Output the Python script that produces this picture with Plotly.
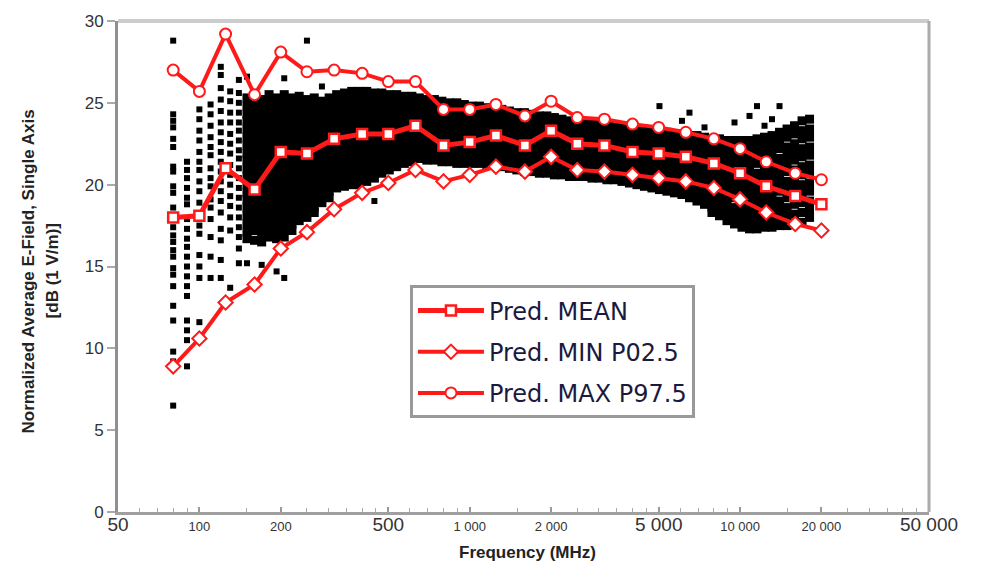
import plotly.graph_objects as go

# ---- prediction curves (third-octave centre frequencies, MHz) ----
freq = [80, 100, 125, 160, 200, 250, 315, 400, 500, 630, 800, 1000, 1250, 1600,
        2000, 2500, 3150, 4000, 5000, 6300, 8000, 10000, 12500, 16000, 20000]
pred_mean = [18.0, 18.1, 21.0, 19.7, 22.0, 21.9, 22.8, 23.1, 23.1, 23.6, 22.4, 22.6, 23.0,
             22.4, 23.3, 22.5, 22.4, 22.0, 21.9, 21.7, 21.3, 20.7, 19.9, 19.3, 18.8]
pred_min = [8.9, 10.6, 12.8, 13.9, 16.1, 17.1, 18.5, 19.5, 20.1, 20.9, 20.2, 20.6, 21.1,
            20.8, 21.7, 20.9, 20.8, 20.6, 20.4, 20.2, 19.8, 19.1, 18.3, 17.6, 17.2]
pred_max = [27.0, 25.7, 29.2, 25.5, 28.1, 26.9, 27.0, 26.8, 26.3, 26.3, 24.6, 24.6, 24.9,
            24.2, 25.1, 24.1, 24.0, 23.7, 23.5, 23.2, 22.8, 22.2, 21.4, 20.7, 20.3]

# ---- measured points, low-frequency sparse columns ----
sparse_freq = [80, 90, 100, 110, 120, 130, 140]
sparse_db = [
    [28.8, 24.3, 23.9, 23.5, 22.8, 22.3, 21.1, 20.8, 19.9, 19.5, 18.6, 17.4, 16.9, 16.5, 16.0,
     15.6, 14.9, 14.5, 13.8, 12.6, 11.7, 9.8, 9.2, 6.5],
    [21.4, 20.9, 20.4, 19.8, 19.2, 18.8, 17.9, 17.3, 16.7, 16.2, 15.6, 15.0, 14.4, 13.8, 13.2,
     11.7, 11.1, 10.5, 8.9],
    [24.6, 24.0, 23.3, 22.7, 22.0, 21.4, 20.9, 20.2, 19.6, 18.9, 18.2, 17.5, 17.0, 15.7, 15.0,
     14.3, 11.6],
    [24.9, 24.3, 23.6, 22.9, 22.3, 21.8, 21.0, 20.4, 19.9, 19.1, 18.6, 17.9, 16.8, 15.6, 14.3],
    [27.2, 26.7, 25.9, 25.2, 24.5, 23.8, 23.2, 22.6, 22.0, 21.4, 20.8, 20.2, 19.6, 19.0, 18.3,
     17.3, 16.6, 15.4, 14.3],
    [25.7, 25.1, 24.4, 23.8, 23.1, 22.5, 21.9, 21.2, 20.6, 20.0, 19.3, 18.7, 18.0, 17.2, 13.7],
    [26.4, 25.6, 25.0, 24.4, 23.8, 23.3, 22.7, 22.1, 21.6, 21.0, 20.4, 19.8, 19.2, 18.6, 18.0,
     17.4, 16.8, 16.1, 15.2],
]

# ---- isolated measured points outside the dense cloud ----
stray_freq = [150, 150, 170, 193, 206, 206, 250, 284, 444, 5034, 6098, 6500, 7387, 9539,
              10840, 11555, 12318, 13131, 13997]
stray_db = [26.6, 15.2, 15.1, 14.7, 26.5, 14.3, 28.8, 26.0, 19.0, 24.8, 23.9, 24.4, 23.5,
            23.8, 24.2, 24.8, 23.6, 24.0, 24.8]

# ---- measured points, dense cloud columns ----
dense_freq = [150, 160, 170, 181, 193, 206, 220, 234, 250, 266, 284, 302, 322, 344, 366, 390,
              416, 444, 473, 504, 537, 573, 611, 651, 694, 740, 789, 841, 896, 955, 1018, 1086,
              1157, 1234, 1315, 1402, 1494, 1593, 1698, 1810, 1930, 2057, 2193, 2338, 2492,
              2657, 2832, 3019, 3218, 3431, 3657, 3898, 4156, 4430, 4722, 5034, 5366, 5720,
              6098, 6500, 6929, 7387, 7874, 8394, 8948, 9539, 10168, 10840, 11555, 12318,
              13131, 13997, 14921, 15906, 16956, 18075]
dense_db = [
    [25.3, 24.8, 24.3, 23.9, 23.4, 22.9, 22.4, 21.9, 21.5, 21.0, 20.5, 20.0, 19.5, 19.1, 18.6, 18.1, 17.6, 17.1, 16.7],
    [25.4, 24.9, 24.5, 24.0, 23.5, 23.0, 22.5, 22.1, 21.6, 21.1, 20.6, 20.1, 19.7, 19.2, 18.7, 18.2, 17.7, 17.2, 16.6],
    [25.2, 24.7, 24.2, 23.7, 23.3, 22.8, 22.3, 21.8, 21.3, 20.9, 20.4, 19.9, 19.4, 18.9, 18.4, 18.0, 17.5, 17.0, 16.5],
    [25.5, 25.0, 24.5, 24.0, 23.6, 23.1, 22.6, 22.1, 21.6, 21.2, 20.7, 20.2, 19.7, 19.2, 18.8, 18.3, 17.8, 17.3, 16.8],
    [25.3, 24.8, 24.4, 23.9, 23.4, 22.9, 22.4, 22.0, 21.5, 21.0, 20.5, 20.0, 19.6, 19.1, 18.6, 18.1, 17.6, 17.1, 16.7],
    [25.5, 25.0, 24.5, 24.1, 23.6, 23.1, 22.6, 22.1, 21.7, 21.2, 20.7, 20.2, 19.7, 19.3, 18.8, 18.3, 17.8, 17.3, 16.8],
    [25.3, 24.8, 24.3, 23.9, 23.4, 22.9, 22.4, 21.9, 21.5, 21.0, 20.5, 20.0, 19.5, 19.1, 18.6, 18.1, 17.6, 17.2],
    [25.4, 24.9, 24.4, 24.0, 23.5, 23.0, 22.5, 22.1, 21.6, 21.1, 20.6, 20.2, 19.7, 19.2, 18.7, 18.3, 17.8],
    [25.2, 24.7, 24.2, 23.8, 23.3, 22.8, 22.3, 21.9, 21.4, 20.9, 20.4, 20.0, 19.5, 19.0, 18.5, 18.0],
    [25.3, 24.8, 24.3, 23.9, 23.4, 22.9, 22.4, 22.0, 21.5, 21.0, 20.5, 20.1, 19.6, 19.1, 18.6, 18.3],
    [25.1, 24.6, 24.2, 23.7, 23.2, 22.7, 22.3, 21.8, 21.3, 20.8, 20.4, 19.9, 19.4, 18.9],
    [25.3, 24.8, 24.3, 23.9, 23.4, 22.9, 22.4, 22.0, 21.5, 21.0, 20.5, 20.1, 19.6, 19.2],
    [25.5, 25.0, 24.5, 24.1, 23.6, 23.1, 22.6, 22.2, 21.7, 21.2, 20.7, 20.3, 19.8],
    [25.6, 25.1, 24.6, 24.2, 23.7, 23.2, 22.7, 22.3, 21.8, 21.3, 20.8, 20.4, 19.9],
    [25.7, 25.2, 24.7, 24.3, 23.8, 23.3, 22.8, 22.4, 21.9, 21.4, 20.9, 20.5, 20.0],
    [25.7, 25.2, 24.7, 24.3, 23.8, 23.3, 22.8, 22.4, 21.9, 21.4, 20.9, 20.5, 20.0],
    [25.7, 25.2, 24.8, 24.3, 23.8, 23.4, 22.9, 22.4, 22.0, 21.5, 21.0, 20.6, 20.2],
    [25.6, 25.1, 24.7, 24.2, 23.7, 23.3, 22.8, 22.3, 21.9, 21.4, 20.9, 20.4],
    [25.6, 25.1, 24.7, 24.2, 23.7, 23.3, 22.8, 22.3, 21.9, 21.4, 20.9, 20.7],
    [25.5, 25.0, 24.6, 24.1, 23.6, 23.2, 22.7, 22.2, 21.8, 21.3, 20.9],
    [25.5, 25.0, 24.6, 24.1, 23.6, 23.2, 22.7, 22.2, 21.8, 21.3, 21.1],
    [25.4, 24.9, 24.5, 24.0, 23.6, 23.1, 22.6, 22.2, 21.7, 21.3],
    [25.4, 24.9, 24.5, 24.0, 23.6, 23.1, 22.6, 22.2, 21.7, 21.4],
    [25.3, 24.8, 24.4, 23.9, 23.5, 23.0, 22.5, 22.1, 21.6],
    [25.2, 24.7, 24.3, 23.8, 23.4, 22.9, 22.4, 22.0, 21.5],
    [25.2, 24.7, 24.3, 23.8, 23.4, 22.9, 22.4, 22.0, 21.5],
    [25.1, 24.6, 24.2, 23.7, 23.3, 22.8, 22.3, 21.9, 21.4],
    [25.0, 24.5, 24.1, 23.6, 23.2, 22.7, 22.3, 21.8, 21.4],
    [25.0, 24.5, 24.1, 23.6, 23.2, 22.7, 22.2, 21.8, 21.3],
    [24.9, 24.4, 24.0, 23.5, 23.1, 22.6, 22.2, 21.7, 21.3],
    [24.8, 24.4, 23.9, 23.5, 23.0, 22.6, 22.1, 21.7, 21.3],
    [24.8, 24.4, 23.9, 23.5, 23.0, 22.6, 22.1, 21.7, 21.3],
    [24.7, 24.3, 23.8, 23.4, 22.9, 22.5, 22.0, 21.6, 21.2],
    [24.7, 24.3, 23.8, 23.4, 22.9, 22.5, 22.0, 21.6, 21.2],
    [24.6, 24.2, 23.7, 23.3, 22.8, 22.4, 21.9, 21.5, 21.1],
    [24.5, 24.1, 23.6, 23.2, 22.7, 22.3, 21.8, 21.4, 21.0],
    [24.4, 24.0, 23.5, 23.1, 22.6, 22.2, 21.7, 21.3, 20.9],
    [24.4, 24.0, 23.5, 23.1, 22.6, 22.2, 21.7, 21.3, 20.8],
    [24.3, 23.9, 23.4, 23.0, 22.5, 22.1, 21.6, 21.2, 20.8],
    [24.2, 23.8, 23.3, 22.9, 22.4, 22.0, 21.5, 21.1, 20.7],
    [24.2, 23.8, 23.3, 22.9, 22.4, 22.0, 21.5, 21.1, 20.7],
    [24.1, 23.7, 23.2, 22.8, 22.3, 21.9, 21.4, 21.0, 20.6],
    [24.0, 23.6, 23.1, 22.7, 22.2, 21.8, 21.4, 21.0, 20.6],
    [23.9, 23.5, 23.0, 22.6, 22.1, 21.7, 21.3, 20.9, 20.5],
    [23.9, 23.5, 23.0, 22.6, 22.1, 21.7, 21.3, 20.9, 20.5],
    [23.8, 23.4, 22.9, 22.5, 22.0, 21.6, 21.2, 20.8, 20.5],
    [23.7, 23.3, 22.8, 22.4, 22.0, 21.6, 21.2, 20.8, 20.4],
    [23.7, 23.3, 22.8, 22.4, 22.0, 21.6, 21.2, 20.8, 20.4],
    [23.6, 23.2, 22.7, 22.3, 21.9, 21.5, 21.1, 20.7, 20.3],
    [23.6, 23.2, 22.7, 22.3, 21.9, 21.5, 21.1, 20.7, 20.3],
    [23.5, 23.1, 22.6, 22.2, 21.8, 21.4, 21.0, 20.6, 20.2],
    [23.4, 23.0, 22.6, 22.2, 21.7, 21.3, 20.9, 20.5, 20.1],
    [23.4, 23.0, 22.5, 22.1, 21.7, 21.3, 20.8, 20.4, 20.0],
    [23.3, 22.9, 22.4, 22.0, 21.6, 21.2, 20.7, 20.3, 19.9],
    [23.3, 22.9, 22.4, 22.0, 21.6, 21.1, 20.7, 20.2, 19.8],
    [23.2, 22.8, 22.3, 21.9, 21.5, 21.0, 20.6, 20.1, 19.7],
    [23.2, 22.8, 22.3, 21.9, 21.4, 21.0, 20.5, 20.1, 19.6],
    [23.1, 22.7, 22.2, 21.8, 21.3, 20.9, 20.4, 20.0, 19.5],
    [23.1, 22.7, 22.2, 21.8, 21.3, 20.8, 20.4, 19.9, 19.4],
    [23.0, 22.5, 22.1, 21.6, 21.2, 20.7, 20.2, 19.7, 19.2],
    [23.0, 22.5, 22.1, 21.6, 21.1, 20.6, 20.2, 19.7, 19.2, 19.0],
    [22.9, 22.4, 22.0, 21.5, 21.0, 20.6, 20.1, 19.6, 19.2, 18.8],
    [22.8, 22.4, 21.9, 21.4, 21.0, 20.5, 20.0, 19.6, 19.1, 18.6, 18.3],
    [22.8, 22.3, 21.8, 21.4, 20.9, 20.4, 20.0, 19.5, 19.0, 18.5, 18.1],
    [22.7, 22.2, 21.7, 21.3, 20.8, 20.3, 19.8, 19.3, 18.8, 18.3, 17.8],
    [22.7, 22.2, 21.7, 21.2, 20.7, 20.2, 19.7, 19.2, 18.6, 18.1, 17.6],
    [22.7, 22.2, 21.7, 21.2, 20.7, 20.2, 19.7, 19.2, 18.6, 18.1, 17.6, 17.4],
    [22.7, 22.2, 21.7, 21.2, 20.7, 20.1, 19.6, 19.1, 18.6, 18.1, 17.6, 17.3],
    [22.8, 22.3, 21.8, 21.3, 20.7, 20.2, 19.7, 19.2, 18.7, 18.2, 17.7, 17.3],
    [22.9, 22.4, 21.9, 21.3, 20.8, 20.3, 19.8, 19.3, 18.8, 18.3, 17.8, 17.4],
    [23.0, 22.5, 22.0, 21.5, 20.9, 20.4, 19.9, 19.4, 18.9, 18.4, 17.9, 17.4],
    [23.2, 22.7, 22.2, 21.6, 21.1, 20.6, 20.1, 19.6, 19.0, 18.5, 18.0, 17.5],
    [23.4, 22.9, 22.3, 21.8, 21.3, 20.8, 20.2, 19.7, 19.2, 18.6, 18.1, 17.5],
    [23.6, 23.1, 22.5, 22.0, 21.5, 20.9, 20.4, 19.9, 19.3, 18.8, 18.2, 17.6],
    [23.9, 23.3, 22.8, 22.2, 21.7, 21.1, 20.6, 20.0, 19.5, 18.9, 18.3, 17.7],
    [24.0, 23.4, 22.9, 22.3, 21.8, 21.2, 20.7, 20.1, 19.6, 19.0, 18.5, 18.0],
]

# ---- axis ticks ----
x_tick_vals = [50, 100, 200, 500, 1000, 2000, 5000, 10000, 20000, 50000]
x_tick_text = ["50", "100", "200", "500", "1 000", "2 000", "5 000", "10 000", "20 000", "50 000"]
x_tick_big = [True, False, False, True, False, False, True, False, False, True]
x_minor_vals = [60, 70, 80, 90, 150, 250, 300, 350, 400, 450, 600, 700, 800, 900, 1500,
                2500, 3000, 3500, 4000, 4500, 6000, 7000, 8000, 9000, 15000,
                25000, 30000, 35000, 40000, 45000]
y_tick_vals = [0, 5, 10, 15, 20, 25, 30]

# expand point columns
sx, sy = [], []
for f, col in zip(sparse_freq, sparse_db):
    for v in col:
        sx.append(f)
        sy.append(v)
sx += stray_freq
sy += stray_db
dx, dy = [], []
for f, col in zip(dense_freq, dense_db):
    for v in col:
        dx.append(f)
        dy.append(v)

RED = "#ff1a1a"
fig = go.Figure()
fig.add_trace(go.Scatter(x=sx, y=sy, mode="markers", showlegend=False, hoverinfo="skip",
                         marker=dict(symbol="square", size=6, color="black")))
fig.add_trace(go.Scatter(x=dx, y=dy, mode="markers", showlegend=False, hoverinfo="skip",
                         marker=dict(symbol="square", size=9, color="black")))

fig.add_trace(go.Scatter(x=freq, y=pred_mean, name="Pred. MEAN", legendgroup="a",
                         mode="lines+markers", line=dict(color=RED, width=5),
                         marker=dict(symbol="square", size=10, color="white",
                                     line=dict(color=RED, width=2.5))))
fig.add_trace(go.Scatter(x=freq, y=pred_min, name="Pred. MIN P02.5", legendgroup="b",
                         mode="lines+markers", line=dict(color=RED, width=4),
                         marker=dict(symbol="diamond", size=11, color="white",
                                     line=dict(color=RED, width=2))))
fig.add_trace(go.Scatter(x=freq, y=pred_max, name="Pred. MAX P97.5", legendgroup="c",
                         mode="lines+markers", line=dict(color=RED, width=4),
                         marker=dict(symbol="circle", size=11, color="white",
                                     line=dict(color=RED, width=2))))

x_text = [f'<span style="font-size:19px">{t}</span>' if big else t
          for t, big in zip(x_tick_text, x_tick_big)]

fig.update_layout(
    width=984, height=565,
    margin=dict(l=118, r=55, t=18, b=53),
    paper_bgcolor="white", plot_bgcolor="white",
    font=dict(family="Liberation Sans, Arial", color="#222"),
    showlegend=True,
    legend=dict(x=0.36, y=0.4615, xanchor="left", yanchor="top",
                bgcolor="white", bordercolor="#999", borderwidth=3,
                font=dict(family="DejaVu Sans", size=24, color="#1a1a40"),
                itemwidth=66, tracegroupgap=7, traceorder="grouped"),
    xaxis=dict(type="log", range=[1.69897, 4.69897], showgrid=False, zeroline=False,
               tickmode="array", tickvals=x_tick_vals, ticktext=x_text,
               tickfont=dict(size=13, color="#333"),
               ticks="inside", ticklen=5, tickcolor="#999", tickwidth=2,
               minor=dict(tickvals=x_minor_vals, ticks="inside", ticklen=4,
                          tickcolor="#aaa", tickwidth=1),
               showline=True, linecolor="#a0a0a0", linewidth=3),
    yaxis=dict(range=[0, 30], showgrid=False, zeroline=False,
               tickmode="array", tickvals=y_tick_vals,
               tickfont=dict(size=17, color="#333"),
               ticks="outside", ticklen=8, tickcolor="#aaa", tickwidth=2,
               showline=True, linecolor="#909090", linewidth=3),
    shapes=[
        dict(type="line", xref="paper", yref="paper", x0=0, x1=1, y0=1, y1=1,
             line=dict(color="#cccccc", width=4)),
        dict(type="line", xref="paper", yref="paper", x0=1, x1=1, y0=0, y1=1,
             line=dict(color="#aaaaaa", width=3)),
    ],
    annotations=[
        dict(text="<b>Normalized Average E-Field, Single Axis</b>", textangle=-90,
             xref="paper", yref="paper", x=(28 - 118) / 811, y=0.49,
             xanchor="center", yanchor="middle", showarrow=False,
             font=dict(size=17, color="#222")),
        dict(text="<b>[dB (1 V/m)]</b>", textangle=-90,
             xref="paper", yref="paper", x=(52 - 118) / 811, y=0.49,
             xanchor="center", yanchor="middle", showarrow=False,
             font=dict(size=17, color="#222")),
        dict(text="<b>Frequency (MHz)</b>",
             xref="paper", yref="paper", x=(527 - 118) / 811, y=(512 - 553) / 494,
             xanchor="center", yanchor="middle", showarrow=False,
             font=dict(size=17, color="#222")),
    ],
)

fig.write_html("out.html")
